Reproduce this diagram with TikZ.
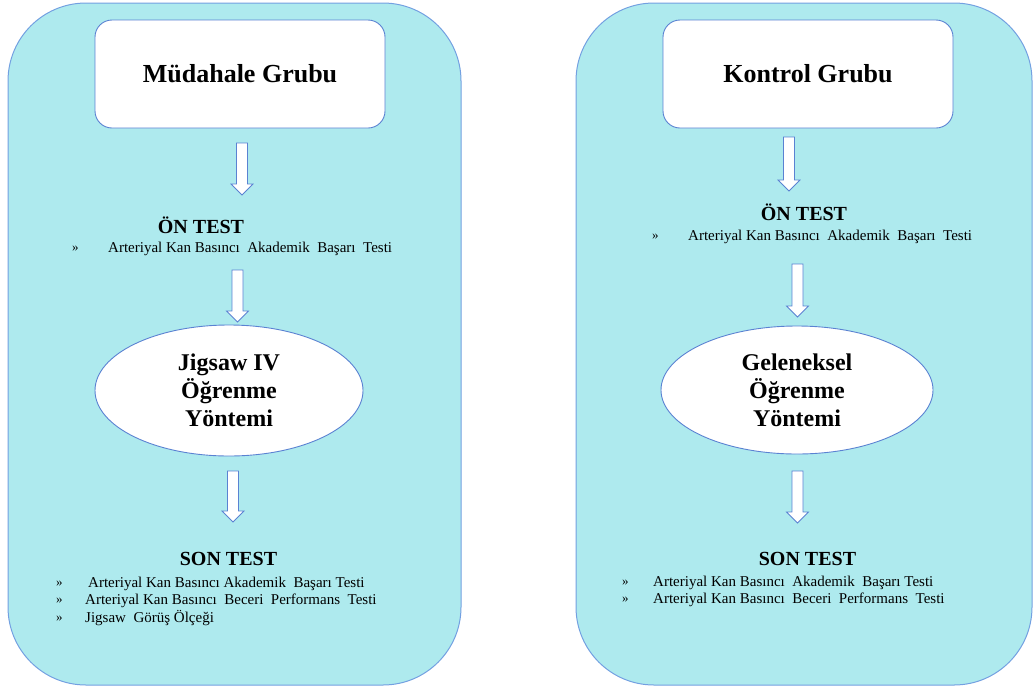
\documentclass[tikz,border=0pt]{standalone}
\usepackage{fontspec}
\setmainfont{Liberation Serif}
\usetikzlibrary{shapes.geometric,calc}

\definecolor{panelfill}{RGB}{174,234,238}
\definecolor{panelline}{RGB}{115,160,225}
\definecolor{shapeline}{RGB}{90,130,210}

\tikzset{
  panel/.style={draw=panelline, fill=panelfill, line width=1pt, rounded corners=78pt},
  groupbox/.style={draw=shapeline, fill=white, line width=0.9pt, rounded corners=17pt,
    minimum width=290pt, minimum height=108pt, font=\bfseries\fontsize{26}{30}\selectfont},
  method/.style={ellipse, draw=shapeline, fill=white, line width=0.9pt, inner sep=0pt,
    align=center, font=\bfseries\fontsize{24}{28}\selectfont},
  heading/.style={anchor=base, inner sep=0pt, font=\bfseries\fontsize{20}{24}\selectfont},
  item/.style={anchor=base west, inner sep=0pt, font=\fontsize{15}{18}\selectfont},
  bulletmark/.style={anchor=base west, inner sep=0pt, font=\fontsize{13}{15}\selectfont},
  blockarrow/.style={draw=shapeline, fill=white, line width=0.8pt,
    to path={let \p1=(\tikztostart), \p2=(\tikztotarget) in
      (\x1-5.5pt,\y1) -- (\x1+5.5pt,\y1) -- (\x1+5.5pt,\y2+11pt) -- (\x1+11pt,\y2+11pt)
      -- (\x1,\y2) -- (\x1-11pt,\y2+11pt) -- (\x1-5.5pt,\y2+11pt) -- cycle}}
}

\begin{document}
\begin{tikzpicture}[x=1pt,y=-1pt]
  \useasboundingbox (0,0) rectangle (1033,686);

  % Paneles de fondo
  \draw[panel] (8,3) rectangle (461,685);
  \draw[panel] (576,3) rectangle (1032,685);

  % Grupo de intervencion
  \node[groupbox] (boxL) at (240,74) {Müdahale Grubu};

  \node[heading] (onL) at (201,233) {ÖN TEST};
  \node[bulletmark] (onLm) at (72,251) {»};
  \node[item] (onL1) at (108,252) {Arteriyal Kan Basıncı \ Akademik \ Başarı \ Testi};

  \node[method, minimum width=268pt, minimum height=131pt] (metL) at (229,390.5)
    {Jigsaw IV\\Öğrenme\\Yöntemi};

  \node[heading] (sonL) at (228.5,565) {SON TEST};
  \node[bulletmark] (sonLm1) at (56,586) {»};
  \node[bulletmark] (sonLm2) at (56,603) {»};
  \node[bulletmark] (sonLm3) at (56,621) {»};
  \node[item] (sonL1) at (88,587) {Arteriyal Kan Basıncı Akademik \ Başarı Testi};
  \node[item] (sonL2) at (85,604) {Arteriyal Kan Basıncı \ Beceri \ Performans \ Testi};
  \node[item] (sonL3) at (85,622) {Jigsaw \ Görüş Ölçeği};

  % Grupo control
  \node[groupbox] (boxR) at (808,74) {Kontrol Grubu};

  \node[heading] (onR) at (804,220) {ÖN TEST};
  \node[bulletmark] (onRm) at (652,239) {»};
  \node[item] (onR1) at (688,240) {Arteriyal Kan Basıncı \ Akademik \ Başarı \ Testi};

  \node[method, minimum width=272pt, minimum height=128pt] (metR) at (797,390)
    {Geleneksel\\Öğrenme\\Yöntemi};

  \node[heading] (sonR) at (807.5,565) {SON TEST};
  \node[bulletmark] (sonRm1) at (622,585) {»};
  \node[bulletmark] (sonRm2) at (622,602) {»};
  \node[item] (sonR1) at (653,586) {Arteriyal Kan Basıncı \ Akademik \ Başarı Testi};
  \node[item] (sonR2) at (653,603) {Arteriyal Kan Basıncı \ Beceri \ Performans \ Testi};

  % Flechas
  \coordinate (aL1s) at (242,143);   \coordinate (aL1e) at (242,195);
  \coordinate (aL2s) at (237.5,270); \coordinate (aL2e) at (237.5,322);
  \coordinate (aL3s) at (233,471);   \coordinate (aL3e) at (233,522);
  \coordinate (aR1s) at (789,137);   \coordinate (aR1e) at (789,191);
  \coordinate (aR2s) at (797.5,264); \coordinate (aR2e) at (797.5,317);
  \coordinate (aR3s) at (797.5,471); \coordinate (aR3e) at (797.5,523);

  \draw[blockarrow] (aL1s) to (aL1e);
  \draw[blockarrow] (aL2s) to (aL2e);
  \draw[blockarrow] (aL3s) to (aL3e);
  \draw[blockarrow] (aR1s) to (aR1e);
  \draw[blockarrow] (aR2s) to (aR2e);
  \draw[blockarrow] (aR3s) to (aR3e);
\end{tikzpicture}
\end{document}
